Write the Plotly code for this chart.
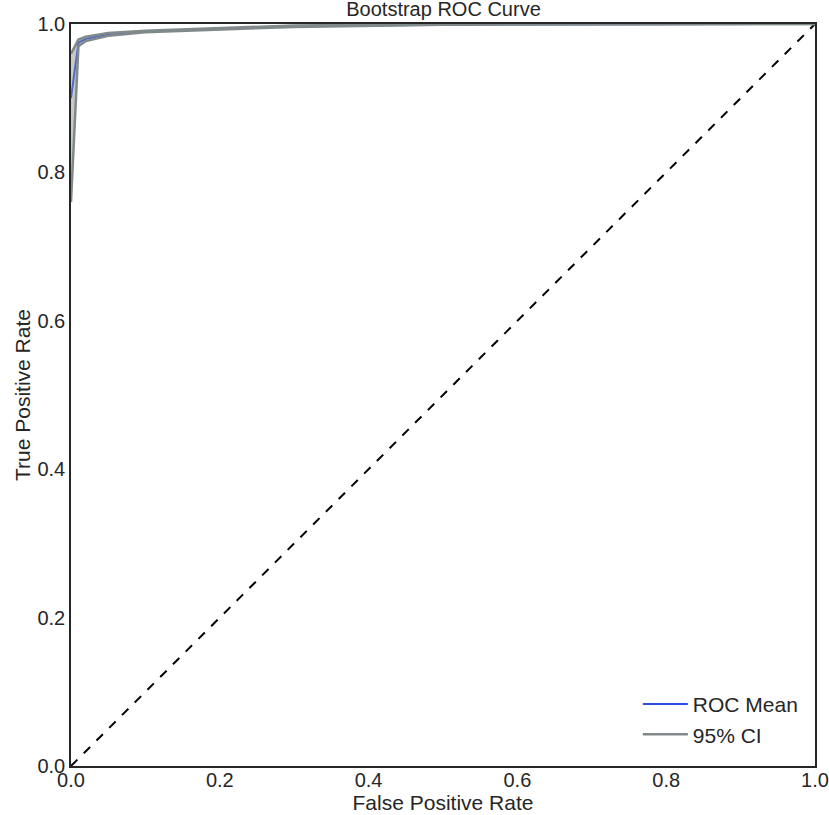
import plotly.graph_objects as go

fpr = [0.0, 0.01, 0.02, 0.05, 0.1, 0.2, 0.3, 0.5, 1.0]
tpr_mean = [0.90, 0.975, 0.980, 0.986, 0.990, 0.994, 0.997, 0.999, 1.0]
tpr_lower = [0.76, 0.970, 0.977, 0.984, 0.989, 0.993, 0.996, 0.999, 1.0]
tpr_upper = [0.96, 0.979, 0.983, 0.988, 0.991, 0.995, 0.998, 1.0, 1.0]
diag = [0.0, 1.0]
ticks = [0.0, 0.2, 0.4, 0.6, 0.8, 1.0]
tick_text = ["0.0", "0.2", "0.4", "0.6", "0.8", "1.0"]

FONT = "Liberation Sans, Arial, sans-serif"

fig = go.Figure()
fig.add_trace(go.Scatter(x=diag, y=diag, mode="lines",
                         line=dict(color="black", width=2, dash="dash"),
                         showlegend=False, hoverinfo="skip"))
fig.add_trace(go.Scatter(x=fpr, y=tpr_mean, mode="lines",
                         line=dict(color="#2a4df0", width=2),
                         name="ROC Mean"))
fig.add_trace(go.Scatter(x=fpr, y=tpr_lower, mode="lines",
                         line=dict(color="#808a8a", width=2.5),
                         name="95% CI"))
fig.add_trace(go.Scatter(x=fpr, y=tpr_upper, mode="lines",
                         line=dict(color="#808a8a", width=2.5),
                         fill="tonexty", fillcolor="rgba(128,138,138,0.45)",
                         showlegend=False))

fig.update_layout(
    width=829, height=815,
    margin=dict(l=71, r=14, t=24, b=49, autoexpand=False),
    paper_bgcolor="white", plot_bgcolor="white",
    font=dict(family=FONT, size=20, color="#262626"),
    title=dict(text="Bootstrap ROC Curve", x=0.535, xanchor="center",
               y=0.989, yanchor="middle", font=dict(size=20), automargin=False),
    legend=dict(x=0.985, y=0.015, xanchor="right", yanchor="bottom",
                bgcolor="rgba(0,0,0,0)", font=dict(size=21),
                traceorder="normal", itemwidth=45),
    showlegend=True,
)
fig.update_xaxes(range=[0, 1], tickvals=ticks, ticktext=tick_text,
                 showgrid=False, zeroline=False, showline=True, mirror=True,
                 linecolor="#262626", linewidth=1.5, ticks="", automargin=False,
                 tickfont=dict(size=20), ticklabelstandoff=-5,
                 title=dict(text="False Positive Rate", font=dict(size=21), standoff=4))
fig.update_yaxes(range=[0, 1], tickvals=ticks, ticktext=tick_text,
                 showgrid=False, zeroline=False, showline=True, mirror=True,
                 linecolor="#262626", linewidth=1.5, ticks="", automargin=False,
                 tickfont=dict(size=20),
                 title=dict(text="True Positive Rate", font=dict(size=21), standoff=1))

fig.write_html("out.html", config={"displayModeBar": False},
               post_script="document.body.style.margin='0px';")
